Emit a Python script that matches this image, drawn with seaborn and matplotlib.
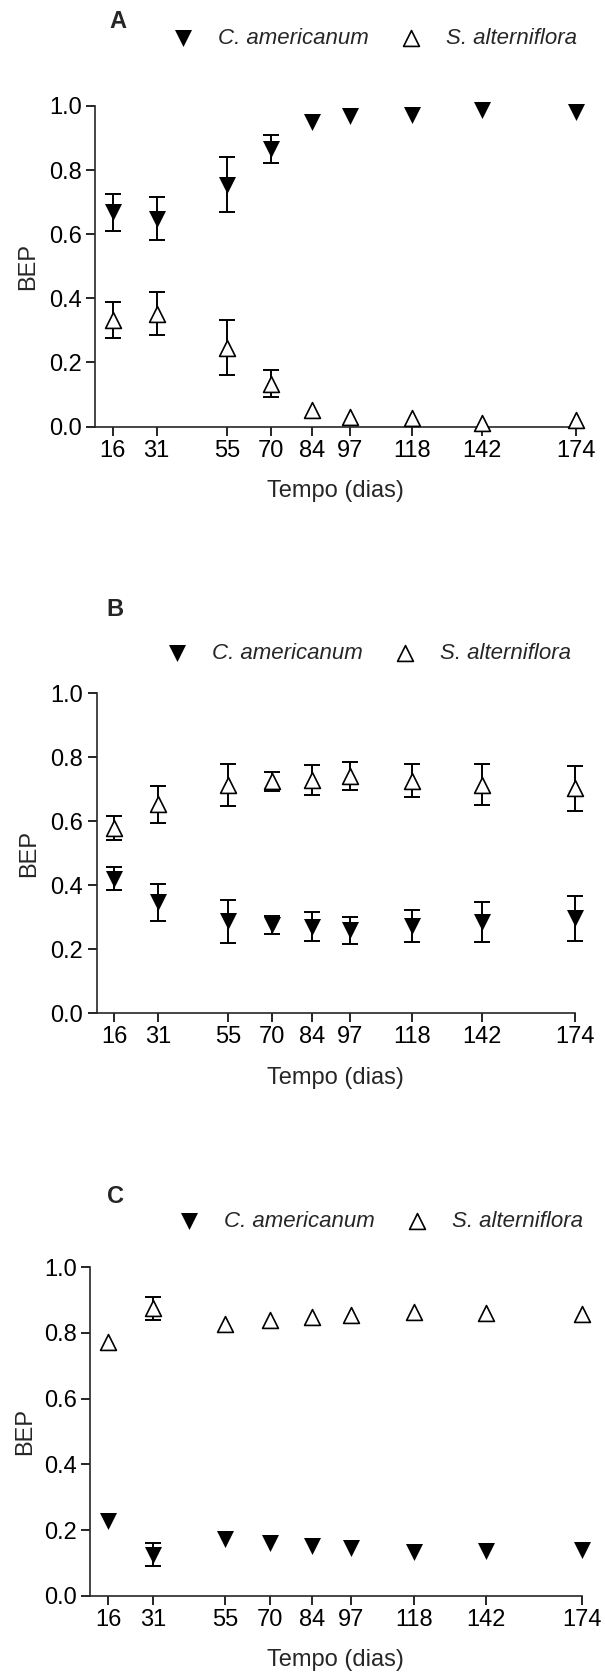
import numpy as np
import pandas as pd
import matplotlib
matplotlib.use("Agg")
import matplotlib.pyplot as plt
from matplotlib.ticker import FormatStrFormatter
import seaborn as sns

# Sampling days (x axis)
dias = [16, 31, 55, 70, 84, 97, 118, 142, 174]
bep_ticks = [0.0, 0.2, 0.4, 0.6, 0.8, 1.0]
especies = ["C. americanum", "S. alterniflora"]

# Panel A: mean BEP and SEM per species
bep_am_A = [0.668, 0.648, 0.755, 0.866, 0.950, 0.968, 0.972, 0.989, 0.980]
bep_sa_A = [0.333, 0.352, 0.246, 0.134, 0.050, 0.030, 0.027, 0.011, 0.020]
sem_A = [0.057, 0.067, 0.085, 0.043, 0.0, 0.0, 0.0, 0.0, 0.0]

# Panel B
bep_am_B = [0.421, 0.347, 0.287, 0.276, 0.271, 0.259, 0.273, 0.285, 0.297]
bep_sa_B = [0.579, 0.653, 0.713, 0.725, 0.729, 0.741, 0.727, 0.715, 0.703]
sem_B = [0.037, 0.057, 0.066, 0.029, 0.046, 0.043, 0.051, 0.063, 0.071]

# Panel C
bep_am_C = [0.227, 0.125, 0.172, 0.161, 0.152, 0.144, 0.134, 0.137, 0.139]
bep_sa_C = [0.773, 0.875, 0.826, 0.839, 0.849, 0.855, 0.864, 0.862, 0.858]
sem_C = [0.0, 0.034, 0.0, 0.0, 0.0, 0.0, 0.0, 0.0, 0.0]

sns.set_style("ticks")
plt.rcParams["font.family"] = ["Liberation Sans", "DejaVu Sans"]
plt.rcParams["axes.linewidth"] = 1.2

W, H = 605, 1679
fig = plt.figure(figsize=(W / 100, H / 100), dpi=100)

FS_TICK = 17
FS_LAB = 17
FS_LEG = 16

panels = [
    dict(letra="A", am=bep_am_A, sa=bep_sa_A, sem=sem_A,
         box=(95, 576, 106, 426.5), letra_xy=(118, 21), leg_xy=(172, 38.3),
         ylab_x=-0.139, xlab_y=-0.200),
    dict(letra="B", am=bep_am_B, sa=bep_sa_B, sem=sem_B,
         box=(96.5, 575, 693.3, 1013.3), letra_xy=(115, 610), leg_xy=(166, 653.3),
         ylab_x=-0.141, xlab_y=-0.203),
    dict(letra="C", am=bep_am_C, sa=bep_sa_C, sem=sem_C,
         box=(90, 581.5, 1267.3, 1595.7), letra_xy=(115, 1196.7), leg_xy=(178, 1221.7),
         ylab_x=-0.133, xlab_y=-0.196),
]

for p in panels:
    l, r, t, b = p["box"]
    ax = fig.add_axes([l / W, 1 - b / H, (r - l) / W, (b - t) / H])

    df = pd.DataFrame({
        "dia": dias * 2,
        "bep": list(p["am"]) + list(p["sa"]),
        "sem": list(p["sem"]) * 2,
        "especie": [especies[0]] * len(dias) + [especies[1]] * len(dias),
    })

    # error bars (only where the SEM is larger than the symbol)
    eb = df[df["sem"] > 0]
    ax.errorbar(eb["dia"], eb["bep"], yerr=eb["sem"], fmt="none",
                ecolor="black", elinewidth=1.4, capsize=5.5, capthick=1.4,
                zorder=2, clip_on=False)

    am = df[df["especie"] == especies[0]]
    sa = df[df["especie"] == especies[1]]
    sns.scatterplot(data=am, x="dia", y="bep", marker="v", color="black",
                    edgecolor="black", linewidth=0, s=150, zorder=3,
                    clip_on=False, label=especies[0], ax=ax)
    sns.scatterplot(data=sa, x="dia", y="bep", marker="^", color="white",
                    edgecolor="black", linewidth=1.2, s=130, zorder=3,
                    clip_on=False, label=especies[1], ax=ax)

    ax.set_xlim(10, 174)
    ax.set_ylim(0, 1.0)
    ax.set_xticks(dias)
    ax.set_xticklabels([str(d) for d in dias])
    ax.set_yticks(bep_ticks)
    ax.yaxis.set_major_formatter(FormatStrFormatter("%.1f"))
    ax.tick_params(axis="both", direction="out", length=6.5, width=1.2,
                   pad=3.0, labelsize=FS_TICK, color="black", labelcolor="black")
    sns.despine(ax=ax)

    ax.set_xlabel("Tempo (dias)", fontsize=FS_LAB, va="center")
    ax.set_ylabel("BEP", fontsize=FS_LAB, va="center")
    ax.xaxis.set_label_coords(0.5, p["xlab_y"])
    ax.yaxis.set_label_coords(p["ylab_x"], 0.5)

    lx, ly = p["leg_xy"]
    ax.legend(loc="center left", bbox_to_anchor=(lx / W, 1 - ly / H),
              bbox_transform=fig.transFigure, ncol=2, frameon=False,
              handlelength=1.0, handletextpad=1.08, columnspacing=1.37,
              borderpad=0, borderaxespad=0, scatterpoints=1,
              prop={"family": "Liberation Sans", "style": "italic", "size": FS_LEG})

    tx, ty = p["letra_xy"]
    fig.text(tx / W, 1 - ty / H, p["letra"], ha="center", va="center",
             fontsize=17, fontweight="bold")

fig.savefig("out.png", dpi=100)
